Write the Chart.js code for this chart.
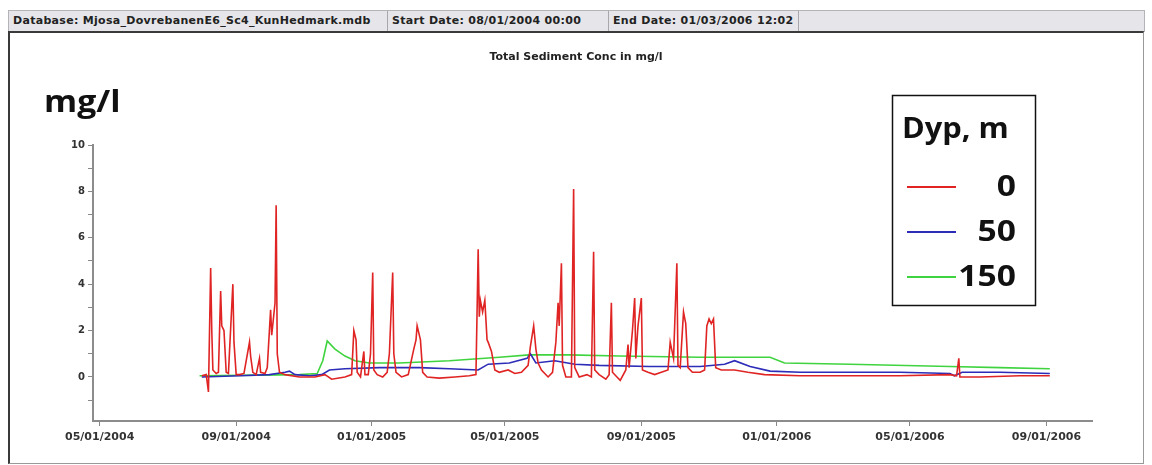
<!DOCTYPE html>
<html>
<head>
<meta charset="utf-8">
<script src="https://cdn.jsdelivr.net/npm/chart.js@4.4.1/dist/chart.umd.min.js"></script>
<style>
  body { margin: 0; background: #fff; width: 1152px; height: 465px; overflow: hidden; position: relative; }
  #hdr { position: absolute; left: 8px; top: 10px; width: 1135px; height: 20px; background: #e6e6ea;
         border: 1px solid #b4b4b8; font: bold 11px "DejaVu Sans", sans-serif; color: #222; letter-spacing: 0.3px; }
  #hdr span { position: absolute; top: 0; height: 20px; line-height: 20px; padding-left: 4px; border-right: 1px solid #a8a8ac; white-space: nowrap; }
  #frame { position: absolute; left: 8px; top: 31px; width: 1133px; height: 430px;
           border-left: 2px solid #3a3a3a; border-top: 2px solid #3a3a3a; border-right: 1px solid #999; border-bottom: 1px solid #999; }
  #c { position: absolute; left: 0; top: 0; }
</style>
</head>
<body>
<div id="hdr">
  <span style="left:0;width:374px">Database: Mjosa_DovrebanenE6_Sc4_KunHedmark.mdb</span>
  <span style="left:379px;width:216px">Start Date: 08/01/2004 00:00</span>
  <span style="left:600px;width:185px">End Date: 01/03/2006 12:02</span>
</div>
<div id="frame"></div>
<canvas id="c" width="1152" height="465"></canvas>
<script>
// days counted from 05/01/2004
let tickDays = [0, 123, 245, 365, 488, 610, 730, 853];
let tickLabels = ["05/01/2004", "09/01/2004", "01/01/2005", "05/01/2005", "09/01/2005", "01/01/2006", "05/01/2006", "09/01/2006"];
let seriesLabels = ["0", "50", "150"];

// depth 0 m
let redDay = [92, 96, 98, 100, 101, 102, 105, 107, 109, 110, 112, 114, 116, 120, 121, 123, 126, 130, 135, 136, 138, 141, 144, 145, 149, 151, 154, 155, 158, 159, 160, 162, 167, 180, 194, 203, 209, 221, 227, 229, 231, 232, 235, 238, 239, 242, 244, 246, 247, 250, 255, 259, 261, 264, 265, 267, 272, 278, 283, 285, 286, 289, 291, 295, 306, 320, 333, 339, 341, 342, 343, 345, 347, 349, 350, 353, 356, 360, 368, 374, 380, 386, 388, 391, 393, 395, 398, 404, 408, 411, 413, 414, 416, 417, 420, 425, 427, 428, 432, 439, 443, 445, 446, 450, 456, 459, 461, 462, 466, 469, 474, 476, 477, 480, 482, 483, 485, 488, 489, 494, 500, 506, 512, 514, 517, 520, 521, 523, 526, 528, 530, 534, 541, 545, 547, 549, 551, 553, 555, 560, 572, 584, 599, 631, 676, 721, 766, 772, 774, 775, 793, 829, 856];
let redVal = [0.05, 0.1, -0.65, 4.7, 2.0, 0.3, 0.15, 0.2, 3.7, 2.2, 2.0, 0.2, 0.15, 4.0, 1.5, 0.1, 0.1, 0.15, 1.5, 0.9, 0.2, 0.1, 0.8, 0.2, 0.15, 0.4, 2.9, 1.8, 3.2, 7.4, 1.0, 0.2, 0.1, 0.0, 0.0, 0.1, -0.1, 0.0, 0.1, 2.0, 1.6, 0.2, 0.0, 1.1, 0.1, 0.1, 1.0, 4.5, 0.3, 0.1, 0.0, 0.2, 1.0, 4.5, 1.0, 0.2, 0.0, 0.1, 1.2, 1.6, 2.2, 1.6, 0.2, 0.0, -0.05, 0.0, 0.05, 0.1, 5.5, 2.6, 3.3, 2.8, 3.3, 1.6, 1.5, 1.1, 0.3, 0.2, 0.3, 0.15, 0.2, 0.5, 1.3, 2.2, 1.2, 0.6, 0.3, 0.0, 0.2, 1.5, 3.2, 2.2, 4.9, 0.5, 0.0, 0.0, 8.1, 0.4, 0.0, 0.1, 0.0, 5.4, 0.3, 0.1, -0.1, 0.1, 3.2, 0.2, 0.0, -0.15, 0.3, 1.4, 0.4, 2.0, 3.4, 0.8, 2.2, 3.4, 0.3, 0.2, 0.1, 0.2, 0.3, 1.5, 0.8, 4.9, 0.5, 0.4, 2.8, 2.3, 0.4, 0.2, 0.2, 0.3, 2.2, 2.5, 2.3, 2.5, 0.4, 0.3, 0.3, 0.2, 0.1, 0.05, 0.05, 0.05, 0.1, 0.05, 0.8, 0.0, 0.0, 0.05, 0.05];

// depth 50 m
let blueDay = [92, 126, 153, 167, 171, 176, 189, 200, 207, 221, 252, 288, 315, 341, 350, 369, 385, 388, 393, 410, 428, 450, 495, 541, 563, 572, 586, 604, 631, 721, 766, 770, 777, 811, 856];
let blueVal = [0.0, 0.05, 0.1, 0.2, 0.25, 0.1, 0.05, 0.1, 0.3, 0.35, 0.4, 0.4, 0.35, 0.3, 0.55, 0.6, 0.8, 1.0, 0.6, 0.7, 0.55, 0.5, 0.45, 0.45, 0.55, 0.7, 0.45, 0.25, 0.2, 0.2, 0.15, 0.05, 0.2, 0.2, 0.15];

// depth 150 m
let greenDay = [90, 144, 180, 196, 201, 205, 212, 221, 230, 243, 270, 315, 360, 387, 423, 468, 541, 604, 617, 676, 766, 811, 856];
let greenVal = [0.05, 0.08, 0.1, 0.15, 0.7, 1.55, 1.2, 0.9, 0.7, 0.6, 0.6, 0.7, 0.85, 0.95, 0.95, 0.9, 0.85, 0.85, 0.6, 0.55, 0.45, 0.4, 0.35];

let colors = ["#e02424", "#2c2cb8", "#3fd43f"];

function pts(days, vals) {
  return days.map((d, i) => ({ x: d, y: vals[i] }));
}

// text stretched sideways a bit, like the original screenshot
function wideText(c, txt, x, y, sx) {
  c.save();
  c.translate(x, y);
  c.scale(sx, 1);
  c.fillText(txt, 0, 0);
  c.restore();
}

// title, big unit label and boxed legend
let decor = {
  id: "decor",
  afterDraw(chart) {
    let c = chart.ctx;
    c.save();
    c.fillStyle = "#222";
    c.textAlign = "center";
    c.textBaseline = "middle";
    c.font = "bold 10px 'DejaVu Sans'";
    wideText(c, "Total Sediment Conc in mg/l", 576, 57, 1.1);

    c.fillStyle = "#111";
    c.textAlign = "left";
    c.font = "bold 31px 'Open Sans'";
    wideText(c, "mg/l", 44, 103, 1.09);

    c.strokeStyle = "#111";
    c.lineWidth = 1.5;
    c.strokeRect(892.5, 95.5, 143, 210);
    c.font = "bold 28px 'Open Sans'";
    wideText(c, "Dyp, m", 902, 130, 1.1);
    let ys = [187, 232, 277];
    c.textAlign = "right";
    c.font = "bold 28px 'Open Sans'";
    seriesLabels.forEach((lab, i) => {
      c.strokeStyle = colors[i];
      c.lineWidth = 2;
      c.beginPath();
      c.moveTo(907, ys[i]);
      c.lineTo(956, ys[i]);
      c.stroke();
      wideText(c, lab, 1016, ys[i] + 1, 1.2);
    });
    c.restore();
  },
};

new Chart(document.getElementById("c"), {
  type: "line",
  data: {
    datasets: [
      { label: seriesLabels[0], data: pts(redDay, redVal), borderColor: colors[0], borderWidth: 1.6 },
      { label: seriesLabels[1], data: pts(blueDay, blueVal), borderColor: colors[1], borderWidth: 1.6 },
      { label: seriesLabels[2], data: pts(greenDay, greenVal), borderColor: colors[2], borderWidth: 1.6 },
    ],
  },
  options: {
    responsive: false,
    animation: false,
    elements: { point: { radius: 0 }, line: { tension: 0 } },
    layout: { padding: { left: 40, top: 145, right: 60, bottom: 12 } },
    plugins: { legend: { display: false }, tooltip: { enabled: false }, title: { display: false } },
    scales: {
      x: {
        type: "linear",
        min: -6,
        max: 894,
        afterFit: (s) => { s.height = 32; },
        afterBuildTicks: (s) => { s.ticks = tickDays.map((v) => ({ value: v })); },
        ticks: {
          autoSkip: false,
          maxRotation: 0,
          padding: 5,
          color: "#333",
          font: { family: "DejaVu Sans", size: 11, weight: "bold" },
          callback: (v) => tickLabels[tickDays.indexOf(v)],
        },
        grid: { drawOnChartArea: false, tickLength: 5, color: "#888" },
        border: { color: "#8c8c8c", width: 2 },
      },
      y: {
        min: -1.9,
        max: 10,
        afterFit: (s) => { s.width = 53; },
        afterBuildTicks: (s) => {
          let t = [];
          for (let v = -1; v <= 10; v++) t.push({ value: v });
          s.ticks = t;
        },
        ticks: {
          padding: 3,
          color: "#333",
          font: { family: "DejaVu Sans", size: 10, weight: "bold" },
          callback: (v) => (v >= 0 && v % 2 === 0 ? String(v) : ""),
        },
        grid: { drawOnChartArea: false, tickLength: 5, color: "#888" },
        border: { color: "#8c8c8c", width: 2 },
      },
    },
  },
  plugins: [decor],
});
</script>
</body>
</html>
